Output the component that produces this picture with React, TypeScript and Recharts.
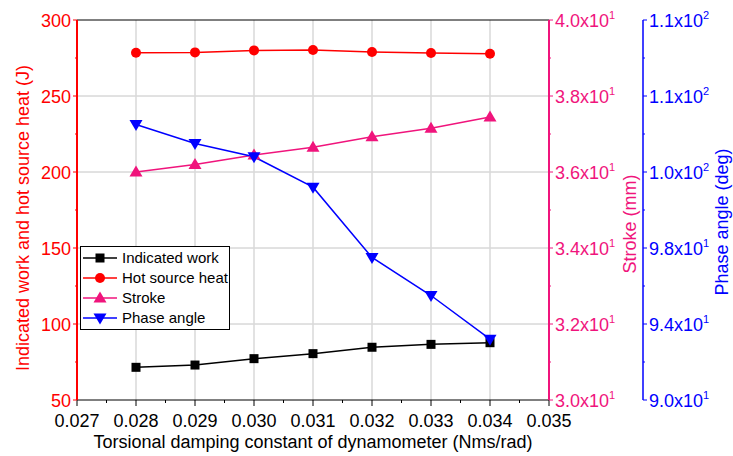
import React from 'react';
import { LineChart, Line, XAxis, YAxis, ReferenceLine, Legend } from 'recharts';

const FONT = 'Arial, "Liberation Sans", sans-serif';
const RED = '#FF0000';
const PINK = '#F0147C';
const BLUE = '#0000FF';

const damping = [0.028, 0.029, 0.03, 0.031, 0.032, 0.033, 0.034];
const indicatedWork = [71.5, 73, 77.2, 80.5, 84.7, 86.6, 87.7];
const hotSourceHeat = [278.5, 278.7, 280, 280.3, 279, 278.3, 277.8];
const strokeMm = [36.0, 36.2, 36.45, 36.65, 36.93, 37.15, 37.45];
const phaseAngle = [104.5, 103.5, 102.8, 101.2, 97.5, 95.5, 93.2];

const xTicks = [0.027, 0.0275, 0.028, 0.0285, 0.029, 0.0295, 0.03, 0.0305, 0.031, 0.0315, 0.032, 0.0325, 0.033, 0.0335, 0.034, 0.0345, 0.035];
const leftTicks = [50, 75, 100, 125, 150, 175, 200, 225, 250, 275, 300];
const strokeTicks = [30, 31, 32, 33, 34, 35, 36, 37, 38, 39, 40];
const phaseTicks = [90, 92, 94, 96, 98, 100, 102, 104, 106, 108, 110];
const gridY = [100, 150, 200, 250];

const data = damping.map((d, i) => ({
  d,
  work: indicatedWork[i],
  heat: hotSourceHeat[i],
  stroke: strokeMm[i],
  phase: phaseAngle[i],
}));

const isMajorX = (v: number) => Math.abs(Math.round(v * 1000) - v * 1000) < 1e-6;

const XTick = (props: any) => {
  const { x, y, payload } = props;
  const major = isMajorX(payload.value);
  return (
    <g>
      <line x1={x} y1={y} x2={x} y2={y + (major ? 6 : 3)} stroke="#000" strokeWidth={1} />
      {major && (
        <text x={x} y={y + 27} textAnchor="middle" fill="#000" fontSize={18} fontFamily={FONT}>
          {payload.value.toFixed(3)}
        </text>
      )}
    </g>
  );
};

const LeftTick = (props: any) => {
  const { x, y, payload } = props;
  const major = payload.value % 50 === 0;
  return (
    <g>
      <line x1={x} y1={y} x2={x - (major ? 4 : 2)} y2={y} stroke={RED} strokeWidth={1} />
      {major && (
        <text x={x - 6} y={y + 7} textAnchor="end" fill={RED} fontSize={18} fontFamily={FONT}>
          {payload.value}
        </text>
      )}
    </g>
  );
};

const makeRightTick = (color: string, isMajor: (v: number) => boolean) => (props: any) => {
  const { x, y, payload } = props;
  const major = isMajor(payload.value);
  const [m, e] = payload.value.toExponential(1).split('e+');
  return (
    <g>
      <line x1={x} y1={y} x2={x + (major ? 4 : 2)} y2={y} stroke={color} strokeWidth={1} />
      {major && (
        <text x={x + 6} y={y + 7} textAnchor="start" fill={color} fontSize={18} fontFamily={FONT}>
          {m}x10
          <tspan fontSize={11} dy={-8}>{e}</tspan>
        </text>
      )}
    </g>
  );
};

const StrokeTick = makeRightTick(PINK, (v) => v % 2 === 0);
const PhaseTick = makeRightTick(BLUE, (v) => (v - 90) % 4 === 0);

const SquareDot = (p: any) => (
  <rect key={`sq-${p.index}`} x={p.cx - 4.5} y={p.cy - 4.5} width={9} height={9} fill="#000" />
);
const CircleDot = (p: any) => <circle key={`ci-${p.index}`} cx={p.cx} cy={p.cy} r={5} fill={RED} />;
const UpDot = (p: any) => (
  <path key={`up-${p.index}`} d={`M${p.cx},${p.cy - 6.5}L${p.cx + 6.5},${p.cy + 4.5}L${p.cx - 6.5},${p.cy + 4.5}Z`} fill={PINK} />
);
const DownDot = (p: any) => (
  <path key={`dn-${p.index}`} d={`M${p.cx},${p.cy + 6.5}L${p.cx + 6.5},${p.cy - 4.5}L${p.cx - 6.5},${p.cy - 4.5}Z`} fill={BLUE} />
);

const legendItems = [
  { name: 'Indicated work', color: '#000', shape: 'square' },
  { name: 'Hot source heat', color: RED, shape: 'circle' },
  { name: 'Stroke', color: PINK, shape: 'up' },
  { name: 'Phase angle', color: BLUE, shape: 'down' },
];

const LegendBox = () => (
  <div
    style={{
      border: '1px solid #000',
      background: '#fff',
      width: 148,
      padding: '1px 0',
      fontFamily: FONT,
      fontSize: 15,
      lineHeight: '20px',
      color: '#000',
    }}
  >
    {legendItems.map((it) => (
      <div key={it.name} style={{ display: 'flex', alignItems: 'center', height: 20 }}>
        <svg width={40} height={20} style={{ flex: 'none' }}>
          <line x1={2} y1={10} x2={36} y2={10} stroke={it.color} strokeWidth={1.5} />
          {it.shape === 'square' && <rect x={14.5} y={5.5} width={9} height={9} fill={it.color} />}
          {it.shape === 'circle' && <circle cx={19} cy={10} r={5} fill={it.color} />}
          {it.shape === 'up' && <path d="M19,3.5L25.5,14.5L12.5,14.5Z" fill={it.color} />}
          {it.shape === 'down' && <path d="M19,16.5L25.5,5.5L12.5,5.5Z" fill={it.color} />}
        </svg>
        <span style={{ marginLeft: 1, whiteSpace: 'nowrap' }}>{it.name}</span>
      </div>
    ))}
  </div>
);

const App = () => {
  return (
    <div style={{ position: 'absolute', left: 0, top: 0, width: 733, height: 456, background: '#fff' }}>
      <LineChart width={733} height={456} data={data} margin={{ top: 20, right: 0, bottom: 0, left: 0 }}>
        <XAxis
          dataKey="d"
          type="number"
          domain={[0.027, 0.035]}
          ticks={xTicks}
          interval={0}
          height={56}
          tickSize={0}
          tickMargin={0}
          tick={<XTick />}
          stroke="#000"
          allowDataOverflow
          label={{
            content: () => (
              <text x={313} y={448} textAnchor="middle" fill="#000" fontSize={18} fontFamily={FONT}>
                Torsional damping constant of dynamometer (Nms/rad)
              </text>
            ),
          }}
        />
        <YAxis
          yAxisId="left"
          domain={[50, 300]}
          ticks={leftTicks}
          interval={0}
          width={77}
          tickSize={0}
          tickMargin={0}
          tick={<LeftTick />}
          stroke={RED}
          strokeWidth={2}
          label={{
            content: () => (
              <text
                transform="translate(29,218) rotate(-90)"
                textAnchor="middle"
                fill={RED}
                fontSize={18}
                fontFamily={FONT}
              >
                Indicated work and hot source heat (J)
              </text>
            ),
          }}
        />
        <YAxis
          yAxisId="r1Stroke"
          orientation="right"
          domain={[30, 40]}
          ticks={strokeTicks}
          interval={0}
          width={94}
          tickSize={0}
          tickMargin={0}
          tick={<StrokeTick />}
          stroke={PINK}
          strokeWidth={2}
          label={{
            content: () => (
              <text
                transform="translate(636,224) rotate(-90)"
                textAnchor="middle"
                fill={PINK}
                fontSize={18}
                fontFamily={FONT}
              >
                Stroke (mm)
              </text>
            ),
          }}
        />
        <YAxis
          yAxisId="r2Phase"
          orientation="right"
          domain={[90, 110]}
          ticks={phaseTicks}
          interval={0}
          width={90}
          tickSize={0}
          tickMargin={0}
          tick={<PhaseTick />}
          stroke={BLUE}
          strokeWidth={1.5}
          label={{
            content: () => (
              <text
                transform="translate(728,222) rotate(-90)"
                textAnchor="middle"
                fill={BLUE}
                fontSize={18}
                fontFamily={FONT}
              >
                Phase angle (deg)
              </text>
            ),
          }}
        />
        {gridY.map((v) => (
          <ReferenceLine key={`gy-${v}`} yAxisId="left" y={v} stroke="#c4c4c4" strokeWidth={1} />
        ))}
        {damping.map((v) => (
          <ReferenceLine key={`gx-${v}`} yAxisId="left" x={v} stroke="#d9d9d9" strokeWidth={1.5} />
        ))}
        <ReferenceLine yAxisId="left" y={300} stroke="#000" strokeWidth={1} />
        <Line yAxisId="left" dataKey="work" stroke="#000" strokeWidth={1.5} dot={SquareDot} isAnimationActive={false} />
        <Line yAxisId="left" dataKey="heat" stroke={RED} strokeWidth={1.5} dot={CircleDot} isAnimationActive={false} />
        <Line yAxisId="r1Stroke" dataKey="stroke" stroke={PINK} strokeWidth={1.5} dot={UpDot} isAnimationActive={false} />
        <Line yAxisId="r2Phase" dataKey="phase" stroke={BLUE} strokeWidth={1.5} dot={DownDot} isAnimationActive={false} />
        <Legend
          layout="vertical"
          align="center"
          verticalAlign="middle"
          content={<LegendBox />}
          wrapperStyle={{ left: 80, top: 246, width: 'auto', height: 'auto' }}
        />
      </LineChart>
    </div>
  );
};

export default App;
